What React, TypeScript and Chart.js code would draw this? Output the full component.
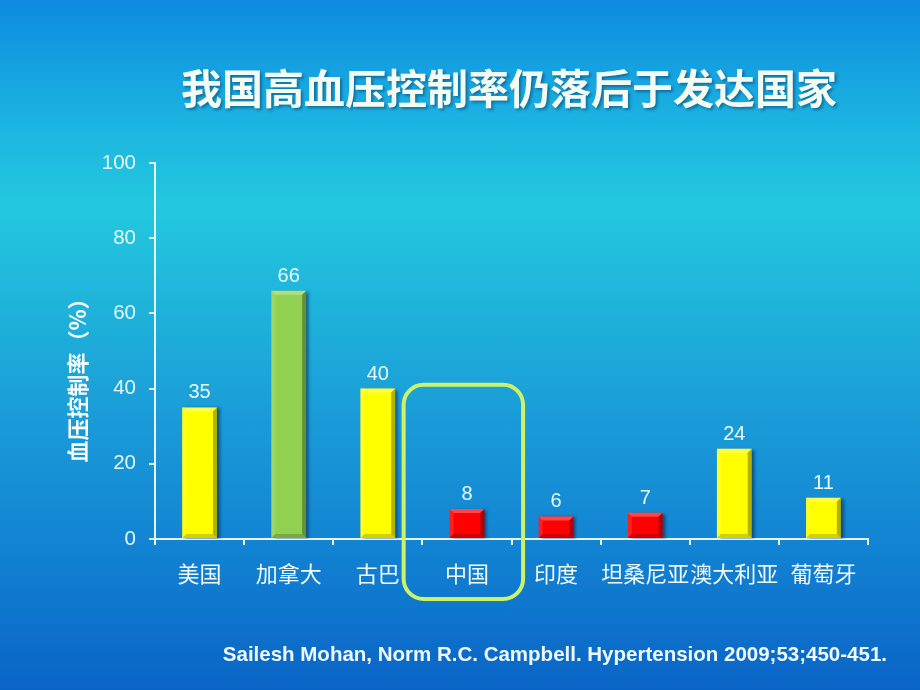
import React, { useEffect, useRef } from 'react';
import { Chart, registerables } from 'chart.js';

Chart.register(...registerables);

const TITLE = '我国高血压控制率仍落后于发达国家';
const Y_TITLE = '血压控制率（%）';
const CITATION = 'Sailesh Mohan, Norm R.C. Campbell. Hypertension 2009;53;450-451.';
const categories = ['美国', '加拿大', '古巴', '中国', '印度', '坦桑尼亚', '澳大利亚', '葡萄牙'];
const controlRates = [35, 66, 40, 8, 6, 7, 24, 11];
const barColors = ['#ffff00', '#92d050', '#ffff00', '#ff0000', '#ff0000', '#ff0000', '#ffff00', '#ffff00'];
const yMin = 0;
const yMax = 100;
const yStep = 20;
const highlightIndex = 3;
const highlightTopValue = 41;

const CJK = '"Noto Sans CJK SC", "Noto Sans", sans-serif';
const LATIN = 'Arial, "Liberation Sans", sans-serif';

const decorPlugin = {
  id: 'decor',
  beforeDatasetsDraw(chart: any) {
    const ctx = chart.ctx;
    ctx.save();
    ctx.shadowColor = 'rgba(0,30,70,0.55)';
    ctx.shadowOffsetX = 3;
    ctx.shadowOffsetY = 1;
    ctx.shadowBlur = 3;
  },
  afterDatasetsDraw(chart: any) {
    const ctx = chart.ctx;
    ctx.restore();
    const meta = chart.getDatasetMeta(0);
    meta.data.forEach((bar: any, i: number) => {
      const { x, y, base, width } = bar.getProps(['x', 'y', 'base', 'width'], true);
      const l = x - width / 2;
      const r = x + width / 2;
      const b = 4;
      ctx.save();
      ctx.fillStyle = 'rgba(255,255,255,0.28)';
      ctx.beginPath();
      ctx.moveTo(l, y); ctx.lineTo(r, y); ctx.lineTo(r - b, y + b); ctx.lineTo(l + b, y + b); ctx.closePath();
      ctx.fill();
      ctx.fillStyle = 'rgba(255,255,255,0.12)';
      ctx.beginPath();
      ctx.moveTo(l, y); ctx.lineTo(l + b, y + b); ctx.lineTo(l + b, base - b); ctx.lineTo(l, base); ctx.closePath();
      ctx.fill();
      ctx.fillStyle = 'rgba(0,0,0,0.3)';
      ctx.beginPath();
      ctx.moveTo(r, y); ctx.lineTo(r, base); ctx.lineTo(r - b, base - b); ctx.lineTo(r - b, y + b); ctx.closePath();
      ctx.fill();
      ctx.fillStyle = 'rgba(0,0,0,0.18)';
      ctx.beginPath();
      ctx.moveTo(l, base); ctx.lineTo(r, base); ctx.lineTo(r - b, base - b); ctx.lineTo(l + b, base - b); ctx.closePath();
      ctx.fill();
      ctx.restore();

      ctx.save();
      ctx.font = `20px ${LATIN}`;
      ctx.fillStyle = '#e8fbfb';
      ctx.textAlign = 'center';
      ctx.textBaseline = 'alphabetic';
      ctx.fillText(String(controlRates[i]), x, y - 9);
      ctx.restore();
    });
  },
  afterDraw(chart: any) {
    const ctx = chart.ctx;
    const xs = chart.scales.x;
    const ys = chart.scales.y;

    ctx.save();
    ctx.font = `bold 41px ${CJK}`;
    ctx.fillStyle = '#f3fbf2';
    ctx.textAlign = 'center';
    ctx.textBaseline = 'middle';
    ctx.shadowColor = 'rgba(0,40,80,0.45)';
    ctx.shadowOffsetX = 2;
    ctx.shadowOffsetY = 2;
    ctx.shadowBlur = 3;
    ctx.fillText(TITLE, 509, 88);
    ctx.restore();

    ctx.save();
    ctx.translate(78, 375);
    ctx.rotate(-Math.PI / 2);
    ctx.font = `bold 22px ${CJK}`;
    ctx.fillStyle = '#f4fcfc';
    ctx.textAlign = 'center';
    ctx.textBaseline = 'middle';
    ctx.fillText(Y_TITLE, 0, 0);
    ctx.restore();

    ctx.save();
    ctx.font = `bold 20.5px ${LATIN}`;
    ctx.fillStyle = '#eef8ff';
    ctx.textAlign = 'right';
    ctx.textBaseline = 'middle';
    ctx.fillText(CITATION, 887, 655);
    ctx.restore();

    const cx = xs.getPixelForValue(highlightIndex);
    const catW = (xs.right - xs.left) / categories.length;
    const left = cx - 0.71 * catW;
    const right = cx + 0.63 * catW;
    const top = ys.getPixelForValue(highlightTopValue);
    const bottom = chart.chartArea.bottom + 60;
    ctx.save();
    ctx.strokeStyle = '#cdf26a';
    ctx.lineWidth = 4;
    ctx.beginPath();
    ctx.roundRect(left, top, right - left, bottom - top, 20);
    ctx.stroke();
    ctx.restore();
  },
};

export default function App() {
  const canvasRef = useRef<HTMLCanvasElement | null>(null);

  useEffect(() => {
    document.body.style.margin = '0';
    const canvas = canvasRef.current;
    if (!canvas) return;
    const axisColor = '#e2f4f6';
    const chart = new Chart(canvas, {
      type: 'bar',
      data: {
        labels: categories,
        datasets: [
          {
            data: controlRates,
            backgroundColor: barColors,
            borderWidth: 0,
            categoryPercentage: 1,
            barPercentage: 0.39,
          },
        ],
      },
      options: {
        responsive: false,
        animation: false,
        devicePixelRatio: 1,
        layout: { padding: { left: 0, top: 163, right: 52, bottom: 0 } },
        plugins: {
          legend: { display: false },
          tooltip: { enabled: false },
          title: { display: false },
        },
        scales: {
          x: {
            afterFit: (s: any) => { s.height = 151; },
            border: { display: true, color: axisColor, width: 2 },
            grid: { drawOnChartArea: false, drawTicks: true, tickLength: 6, color: axisColor, lineWidth: 2, offset: true },
            ticks: {
              color: '#f0fafa',
              font: { family: CJK, size: 22 },
              padding: 15,
              autoSkip: false,
              maxRotation: 0,
              minRotation: 0,
            },
          },
          y: {
            min: yMin,
            max: yMax,
            afterFit: (s: any) => { s.width = 155; },
            border: { display: true, color: axisColor, width: 2 },
            grid: { drawOnChartArea: false, drawTicks: true, tickLength: 6, color: axisColor, lineWidth: 2 },
            ticks: {
              stepSize: yStep,
              color: '#e4f8f8',
              font: { family: LATIN, size: 20.5 },
              padding: 13,
            },
          },
        },
      },
      plugins: [decorPlugin],
    });
    return () => chart.destroy();
  }, []);

  return (
    <div
      style={{
        position: 'fixed',
        left: 0,
        top: 0,
        width: 920,
        height: 690,
        background: 'linear-gradient(to bottom, #0d8be0 0%, #1cb4e0 18%, #22c8de 30%, #1fb2da 45%, #1a9bd8 61%, #1282d2 80%, #0a64c6 100%)',
      }}
    >
      <canvas ref={canvasRef} width={920} height={690} style={{ display: 'block' }} />
    </div>
  );
}
